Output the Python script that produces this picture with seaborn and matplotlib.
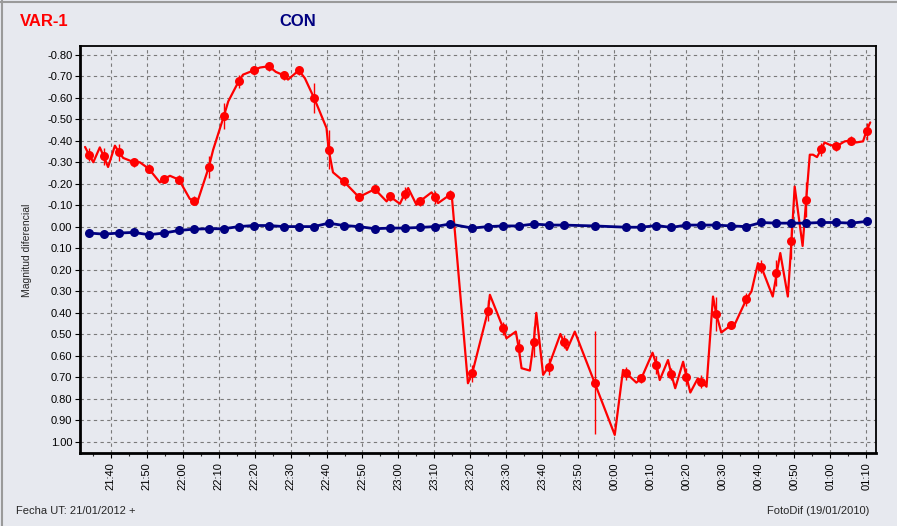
import numpy as np
import pandas as pd
import seaborn as sns
import matplotlib.pyplot as plt
import matplotlib.dates as mdates
from matplotlib.ticker import FixedLocator, FuncFormatter
from matplotlib.lines import Line2D

# times are minutes after 21:00 UT (21/01/2012)
# averaged points (markers), shared by VAR-1 and CON
mark_min = [34.0, 38.1, 42.3, 46.5, 50.6, 54.8, 59.0, 63.1, 67.3, 71.5,
            75.6, 79.8, 84.0, 88.1, 92.3, 96.5, 100.6, 104.8, 109.0, 113.4,
            117.6, 121.7, 125.9, 130.1, 134.3, 140.5, 144.9, 149.1, 153.4, 157.6,
            161.8, 165.9, 174.5, 183.3, 187.5, 191.7, 195.8, 200.0, 204.2, 208.3,
            212.5, 216.7, 220.8, 225.0, 229.2, 233.3, 237.5, 241.7, 245.8, 250.1]
var_mark = [-0.335, -0.327, -0.347, -0.30, -0.27, -0.222, -0.219, -0.121, -0.278, -0.516,
            -0.676, -0.727, -0.746, -0.704, -0.727, -0.60, -0.358, -0.211, -0.138, -0.175,
            -0.141, -0.153, -0.118, -0.138, -0.149, 0.68, 0.389, 0.471, 0.561, 0.533,
            0.65, 0.533, 0.724, 0.68, 0.704, 0.642, 0.684, 0.696, 0.719, 0.405,
            0.456, 0.336, 0.185, 0.216, 0.068, -0.126, -0.361, -0.374, -0.401, -0.443]
var_err = [0.03, 0.04, 0.04, 0.02, 0.02, 0.02, 0.02, 0.02, 0.05, 0.06,
           0.03, 0.02, 0.02, 0.02, 0.02, 0.07, 0.09, 0.02, 0.02, 0.02,
           0.02, 0.03, 0.02, 0.03, 0.02, 0.04, 0.05, 0.03, 0.04, 0.07,
           0.04, 0.03, 0.24, 0.03, 0.02, 0.04, 0.03, 0.04, 0.03, 0.08,
           0.02, 0.03, 0.03, 0.06, 0.08, 0.08, 0.03, 0.02, 0.02, 0.04]
con_mark = [0.029, 0.034, 0.029, 0.026, 0.037, 0.029, 0.017, 0.011, 0.009, 0.009,
            -0.001, -0.006, -0.006, -0.001, -0.001, -0.001, -0.017, -0.006, -0.001, 0.009,
            0.006, 0.006, 0.003, -0.001, -0.013, 0.006, -0.001, -0.004, -0.004, -0.013,
            -0.008, -0.008, -0.004, 0.002, 0.002, -0.006, 0.003, -0.008, -0.008, -0.008,
            -0.004, -0.001, -0.02, -0.017, -0.017, -0.017, -0.02, -0.02, -0.017, -0.025]

# individual VAR-1 measurements (red line)
var_min = [32.9, 34.0, 35.2, 37.0, 38.1, 39.3, 41.2, 42.3, 43.5, 46.5,
           48.1, 50.6, 53.7, 54.8, 56.5, 59.0, 62.0, 63.1, 64.3, 67.3,
           68.5, 71.5, 72.7, 75.6, 76.8, 79.8, 81.5, 84.0, 85.9, 88.1,
           89.3, 92.3, 94.0, 96.5, 98.1, 100.0, 100.6, 101.8, 104.8, 109.0,
           113.4, 116.7, 117.6, 120.4, 121.7, 122.7, 125.0, 125.9, 129.2, 130.1,
           131.0, 134.3, 134.8, 139.3, 140.5, 144.9, 145.4, 149.1, 150.0, 152.6,
           153.4, 154.2, 156.5, 157.6, 158.3, 160.2, 161.7, 165.0, 165.9, 166.8,
           169.0, 174.5, 180.1, 182.4, 183.3, 186.1, 187.5, 190.6, 191.7, 192.6,
           194.9, 195.8, 196.9, 199.1, 200.0, 201.1, 203.2, 204.2, 205.6, 207.4,
           208.3, 209.7, 212.5, 213.4, 216.7, 218.1, 219.9, 220.8, 224.0, 225.1,
           226.1, 228.2, 229.2, 230.1, 232.3, 233.3, 234.3, 235.2, 236.3, 237.5,
           238.4, 239.8, 241.7, 244.0, 245.8, 247.2, 249.1, 250.0, 251.1]
var_val = [-0.371, -0.335, -0.30, -0.369, -0.327, -0.278, -0.377, -0.347, -0.32, -0.30,
           -0.30, -0.27, -0.206, -0.222, -0.237, -0.219, -0.13, -0.121, -0.125, -0.278,
           -0.358, -0.516, -0.583, -0.676, -0.707, -0.727, -0.74, -0.746, -0.72, -0.704,
           -0.684, -0.727, -0.69, -0.60, -0.536, -0.459, -0.358, -0.253, -0.211, -0.138,
           -0.175, -0.118, -0.141, -0.107, -0.153, -0.18, -0.102, -0.118, -0.16, -0.138,
           -0.11, -0.149, -0.147, 0.727, 0.68, 0.389, 0.316, 0.471, 0.518, 0.487,
           0.561, 0.657, 0.668, 0.533, 0.40, 0.688, 0.65, 0.498, 0.533, 0.572,
           0.487, 0.724, 0.967, 0.665, 0.68, 0.724, 0.704, 0.585, 0.642, 0.712,
           0.619, 0.684, 0.75, 0.627, 0.696, 0.77, 0.704, 0.719, 0.743, 0.324,
           0.405, 0.491, 0.456, 0.455, 0.336, 0.30, 0.169, 0.185, 0.324, 0.216,
           0.122, 0.324, 0.068, -0.187, 0.089, -0.126, -0.335, -0.335, -0.324, -0.361,
           -0.392, -0.381, -0.374, -0.397, -0.401, -0.392, -0.397, -0.443, -0.485]

y_ticks = np.round(np.arange(-0.8, 1.01, 0.1), 2)

base = pd.Timestamp('2012-01-21 21:00')
mark_t = base + pd.to_timedelta(mark_min, unit='m')
var_t = base + pd.to_timedelta(var_min, unit='m')
marks = pd.DataFrame({'t': mark_t, 'var': var_mark, 'err': var_err, 'con': con_mark})
line = pd.DataFrame({'t': var_t, 'var': var_val})

sns.set_style('white')
plt.rcParams['font.family'] = ['Liberation Sans', 'DejaVu Sans']

bg = '#E7E9EF'
fig = plt.figure(figsize=(8.97, 5.26), dpi=100, facecolor=bg)
ax = fig.add_axes([0.0892, 0.1388, 0.8874, 0.7737])
ax.set_facecolor(bg)

# VAR-1
sns.lineplot(data=line, x='t', y='var', ax=ax, color='#FF0000', lw=1.6,
             estimator=None, sort=False, zorder=3)
ax.vlines(marks['t'], marks['var'] - marks['err'], marks['var'] + marks['err'],
          color='#FF0000', lw=1, zorder=3)
sns.scatterplot(data=marks, x='t', y='var', ax=ax, color='#FF0000', s=42,
                linewidth=0, zorder=4)
# CON
sns.lineplot(data=marks, x='t', y='con', ax=ax, color='#000080', lw=2,
             marker='o', markersize=6.5, markeredgewidth=0, estimator=None, zorder=5)

ax.set_xlim(base + pd.Timedelta(minutes=31.5), base + pd.Timedelta(minutes=252.7))
ax.set_ylim(1.051, -0.84)

ax.xaxis.set_major_locator(mdates.MinuteLocator(byminute=range(0, 60, 10)))
ax.xaxis.set_minor_locator(mdates.MinuteLocator(byminute=range(5, 60, 10)))
ax.xaxis.set_major_formatter(mdates.DateFormatter('%H:%M'))
ax.yaxis.set_major_locator(FixedLocator(y_ticks))
ax.yaxis.set_major_formatter(FuncFormatter(lambda v, p: f'{v + 0.0:.2f}'))

ax.grid(True, which='major', color='#7A7A7A', linestyle=(0, (3, 3)), linewidth=0.8)
ax.set_axisbelow(True)
for side in ['left', 'bottom']:
    ax.spines[side].set_linewidth(2)
for side in ['top', 'right']:
    ax.spines[side].set_linewidth(1.3)
for sp in ax.spines.values():
    sp.set_color('black')

ax.tick_params(axis='both', which='major', direction='out', length=3.5, width=0.8,
               labelsize=8, colors='black', left=True, bottom=True)
ax.tick_params(axis='x', which='minor', direction='out', length=2, width=0.8, bottom=True)
ax.tick_params(axis='x', which='major', rotation=90, pad=3)
ax.tick_params(axis='y', which='major', pad=2)
for lab in ax.get_xticklabels():
    lab.set_va('top')
ax.set_xlabel('')
ax.set_ylabel('')

fig.text(20 / 897, 1 - 21.5 / 526, 'VAR-1', color='#FF0000', fontsize=12,
         fontweight='bold', ha='left', va='center')
fig.text(298 / 897, 1 - 21.5 / 526, 'CON', color='#000080', fontsize=12,
         fontweight='bold', ha='center', va='center')
fig.text(27 / 897, 1 - 250 / 526, 'Magnitud diferencial', rotation=90, fontsize=7.5,
         ha='center', va='center')
fig.text(16 / 897, 1 - 511 / 526, 'Fecha UT: 21/01/2012 +', fontsize=8,
         ha='left', va='center')
fig.text(869 / 897, 1 - 511 / 526, 'FotoDif (19/01/2010)', fontsize=8,
         ha='right', va='center')

# window frame edges
fig.add_artist(Line2D([0, 1], [1 - 1.5 / 526] * 2, transform=fig.transFigure,
                      color='#9A9A9A', lw=1.5))
fig.add_artist(Line2D([1.5 / 897] * 2, [0, 1], transform=fig.transFigure,
                      color='#9A9A9A', lw=1.5))

fig.savefig('out.png', dpi=100, facecolor=bg)
